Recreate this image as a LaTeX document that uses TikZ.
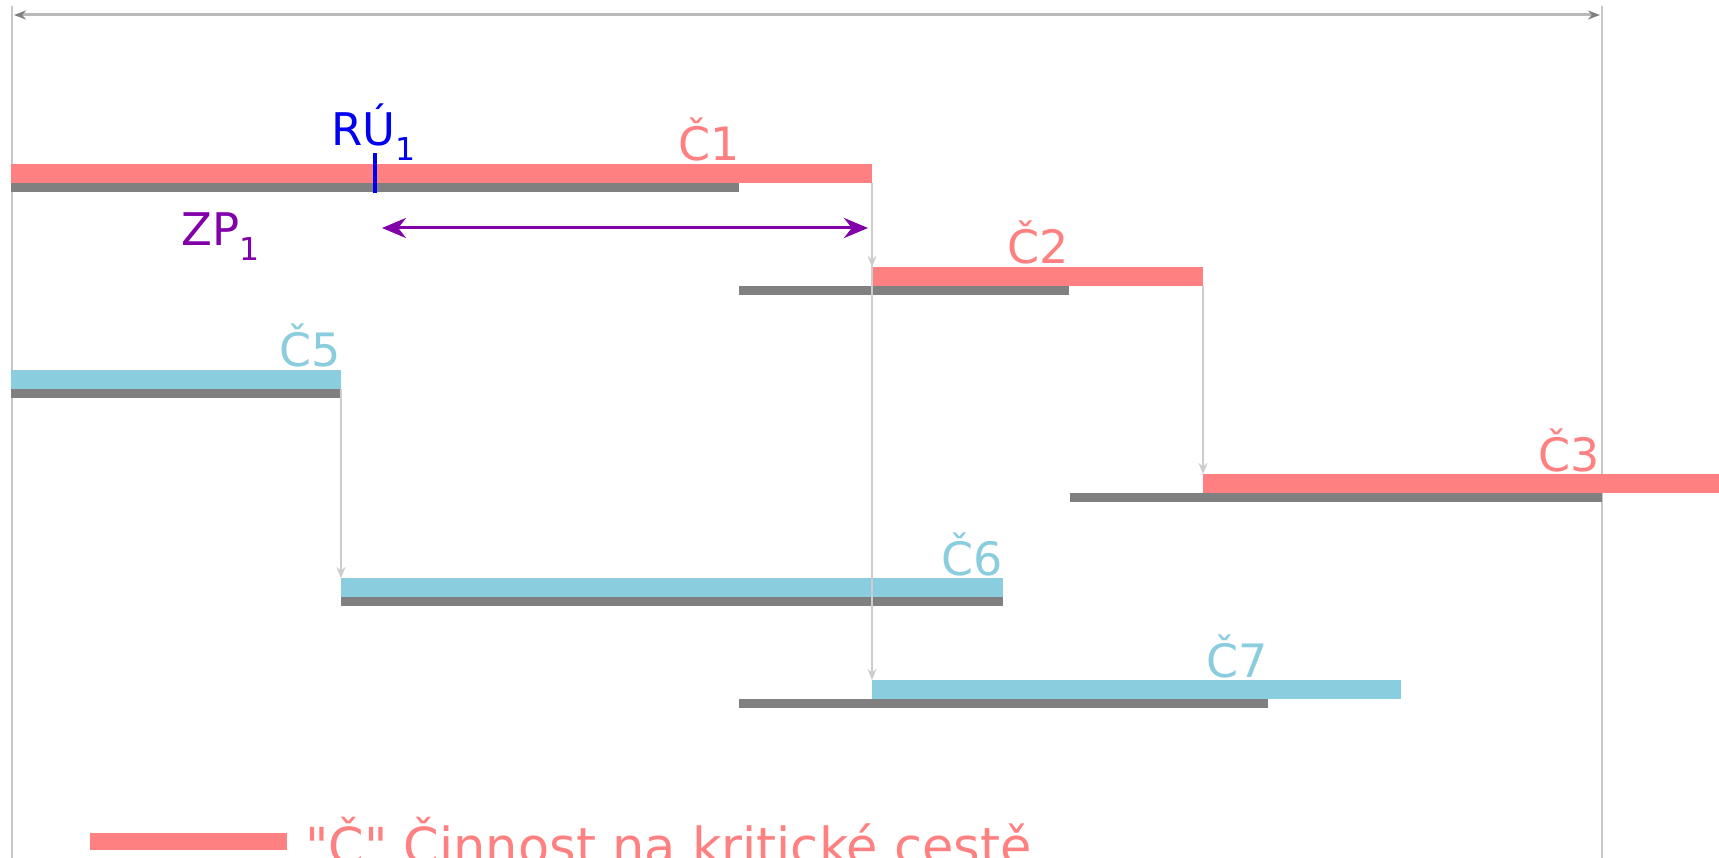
\documentclass[tikz,border=0pt]{standalone}
\usepackage{fontspec}
\setmainfont{DejaVu Sans}
\usetikzlibrary{arrows.meta}
\definecolor{crit}{RGB}{255,128,128}
\definecolor{noncrit}{RGB}{137,205,222}
\definecolor{barg}{RGB}{128,128,128}
\definecolor{connc}{RGB}{205,205,205}
\definecolor{framec}{RGB}{200,200,200}
\definecolor{topc}{RGB}{185,185,185}
\definecolor{rublue}{RGB}{0,0,240}
\definecolor{zppurple}{RGB}{130,0,170}
\begin{document}
\begin{tikzpicture}[x=1pt,y=-1pt,
  bar/.style={inner sep=0pt, outer sep=0pt, anchor=north west, minimum height=19pt, draw=none},
  redbar/.style={bar, fill=crit},
  bluebar/.style={bar, fill=noncrit},
  graybar/.style={bar, fill=barg, minimum height=9pt},
  lab/.style={anchor=base east, inner sep=0pt, font=\fontsize{46}{50}\selectfont},
  redlab/.style={lab, text=crit},
  bluelab/.style={lab, text=noncrit},
  connarrow/.style={draw=connc, line width=2pt, -{Stealth[length=11pt,width=9pt]}},
  framel/.style={draw=framec, line width=2.5pt},
  toparrow/.style={draw=topc, line width=3pt, {Stealth[length=12pt,width=9pt,color=gray]}-{Stealth[length=12pt,width=9pt,color=gray]}},
  zparrow/.style={draw=zppurple, line width=3pt, {Stealth[length=24pt,width=20pt]}-{Stealth[length=24pt,width=20pt]}},
]
\useasboundingbox (0,0) rectangle (1719,858);

% frame
\coordinate (fl1) at (12,6);
\coordinate (fl2) at (12,860);
\coordinate (fr1) at (1602,6);
\coordinate (fr2) at (1602,860);
\draw[framel] (fl1) -- (fl2);
\draw[framel] (fr1) -- (fr2);
\coordinate (ta) at (14,15);
\coordinate (tb) at (1600,15);
\draw[toparrow] (ta) -- (tb);

% bars
\node[redbar, minimum width=861pt] (c1) at (11,164) {};
\node[graybar, minimum width=728pt] (g1) at (11,183) {};
\node[redbar, minimum width=331pt] (c2) at (872,267) {};
\node[graybar, minimum width=330pt] (g2) at (739,286) {};
\node[redbar, minimum width=530pt] (c3) at (1203,474) {};
\node[graybar, minimum width=532pt] (g3) at (1070,493) {};
\node[bluebar, minimum width=330pt] (c5) at (11,370) {};
\node[graybar, minimum width=330pt] (g5) at (11,389) {};
\node[bluebar, minimum width=662pt] (c6) at (341,578) {};
\node[graybar, minimum width=662pt] (g6) at (341,597) {};
\node[bluebar, minimum width=529pt] (c7) at (872,680) {};
\node[graybar, minimum width=529pt] (g7) at (739,699) {};

% labels
\node[redlab] (l1) at (740,161) {Č1};
\node[redlab] (l2) at (1069,264) {Č2};
\node[redlab] (l3) at (1600,471) {Č3};
\node[bluelab] (l5) at (341,367) {Č5};
\node[bluelab] (l6) at (1003,575) {Č6};
\node[bluelab] (l7) at (1268,677) {Č7};

% connectors
\draw[connarrow] (c1.south east) -- (c2.north west);
\draw[connarrow] (c1.south east) -- (c7.north west);
\draw[connarrow] (c2.south east) -- (c3.north west);
\draw[connarrow] (c5.south east) -- (c6.north west);

% RU tick and label
\coordinate (rt1) at (375,153);
\coordinate (rt2) at (375,193);
\draw[rublue, line width=4pt] (rt1) -- (rt2);
\node[anchor=base, inner sep=0pt, text=rublue, font=\fontsize{45}{50}\selectfont] (ru) at (374,146) {RÚ\textsubscript{1}};

% ZP
\node[anchor=base west, inner sep=0pt, text=zppurple, font=\fontsize{45}{50}\selectfont] (zp) at (181,246) {ZP\textsubscript{1}};
\coordinate (pa) at (382,228);
\coordinate (pb) at (868,228);
\draw[zparrow] (pa) -- (pb);

% legend
\node[redbar, minimum width=197pt, minimum height=17pt] (legbar) at (90,833) {};
\node[anchor=base west, inner sep=0pt, text=crit, font=\fontsize{51}{56}\selectfont] (legtxt) at (305,864) {\textquotedbl Č\textquotedbl{} Činnost na kritické cestě};
\end{tikzpicture}
\end{document}
